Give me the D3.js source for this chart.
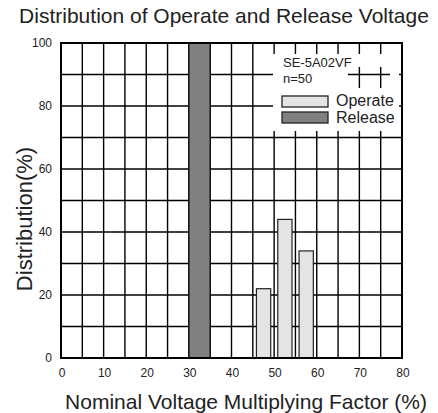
<!DOCTYPE html>
<html><head><meta charset="utf-8">
<script src="https://cdn.jsdelivr.net/npm/d3@7"></script>
<style>body{margin:0;background:#fff;} text{font-family:"Liberation Sans",Arial,sans-serif;fill:#222;}</style>
</head><body>
<svg id="c" width="438" height="413"></svg>
<script>
const title = "Distribution of Operate and Release Voltage";
const xLabel = "Nominal Voltage Multiplying Factor (%)";
const yLabel = "Distribution(%)";
const xTicks = [0, 10, 20, 30, 40, 50, 60, 70, 80];
const yTicks = [0, 20, 40, 60, 80, 100];
const releaseBins = [30];
const releaseValues = [100];
const operateBins = [45, 50, 55];
const operateValues = [22, 44, 34];
const binWidth = 5;
const legendTitle = ["SE-5A02VF", "n=50"];
const seriesNames = ["Operate", "Release"];

const svg = d3.select("#c");
const L = 61, R = 402, T = 43, B = 358;
const x = d3.scaleLinear().domain([0, 80]).range([L, R]);
const y = d3.scaleLinear().domain([0, 100]).range([B, T]);

// grid
const vgrid = d3.range(5, 80, 5), hgrid = d3.range(10, 100, 10);
svg.append("g").selectAll("line").data(vgrid).join("line")
  .attr("x1", d => x(d)).attr("x2", d => x(d)).attr("y1", T).attr("y2", B)
  .attr("stroke", "#000").attr("stroke-width", 1.4);
svg.append("g").selectAll("line").data(hgrid).join("line")
  .attr("x1", L).attr("x2", R).attr("y1", d => y(d)).attr("y2", d => y(d))
  .attr("stroke", "#000").attr("stroke-width", 1.4);

// bars
svg.append("g").selectAll("rect").data(releaseBins).join("rect")
  .attr("x", d => x(d)).attr("width", d => x(d + binWidth) - x(d))
  .attr("y", (d, i) => y(releaseValues[i])).attr("height", (d, i) => y(0) - y(releaseValues[i]))
  .attr("fill", "#808080").attr("stroke", "#111").attr("stroke-width", 1.4);
svg.append("g").selectAll("rect").data(operateBins).join("rect")
  .attr("x", d => x(d + 0.85)).attr("width", d => x(d + 4.2) - x(d + 0.85))
  .attr("y", (d, i) => y(operateValues[i])).attr("height", (d, i) => y(0) - y(operateValues[i]))
  .attr("fill", "#e4e4e4").attr("stroke", "#222").attr("stroke-width", 1.2);

// frame
svg.append("rect").attr("x", L).attr("y", T).attr("width", R - L).attr("height", B - T)
  .attr("fill", "none").attr("stroke", "#000").attr("stroke-width", 2);

// legend backgrounds
[[273, 54, 125, 13], [273, 67, 75, 21], [390, 67, 9, 21], [273, 88, 126, 43]].forEach(r =>
  svg.append("rect").attr("x", r[0]).attr("y", r[1]).attr("width", r[2]).attr("height", r[3]).attr("fill", "#fff"));
svg.append("text").attr("x", 283).attr("y", 67).attr("font-size", 13).text(legendTitle[0]);
svg.append("text").attr("x", 283).attr("y", 83).attr("font-size", 13).text(legendTitle[1]);
const fills = ["#e4e4e4", "#808080"];
seriesNames.forEach((s, i) => {
  svg.append("rect").attr("x", 282).attr("y", 96 + i * 16).attr("width", 46).attr("height", 11)
    .attr("fill", fills[i]).attr("stroke", "#222").attr("stroke-width", 1.3);
  svg.append("text").attr("x", 336).attr("y", 106 + i * 17).attr("font-size", 16).text(s);
});

// axes labels
svg.append("g").selectAll("text").data(yTicks).join("text")
  .attr("x", 52).attr("y", d => y(d)).attr("dy", "0.35em").attr("text-anchor", "end")
  .attr("font-size", 12).text(d => d);
svg.append("g").selectAll("text").data(xTicks).join("text")
  .attr("x", d => x(d) + 1).attr("y", 377).attr("text-anchor", "middle")
  .attr("font-size", 12).text(d => d);

svg.append("text").attr("x", 224).attr("y", 23).attr("text-anchor", "middle").attr("font-size", 21).text(title);
svg.append("text").attr("x", 246).attr("y", 409).attr("text-anchor", "middle").attr("font-size", 21).text(xLabel);
svg.append("text").attr("transform", "translate(32,219) rotate(-90)").attr("text-anchor", "middle").attr("font-size", 22).text(yLabel);
</script>
</body></html>
